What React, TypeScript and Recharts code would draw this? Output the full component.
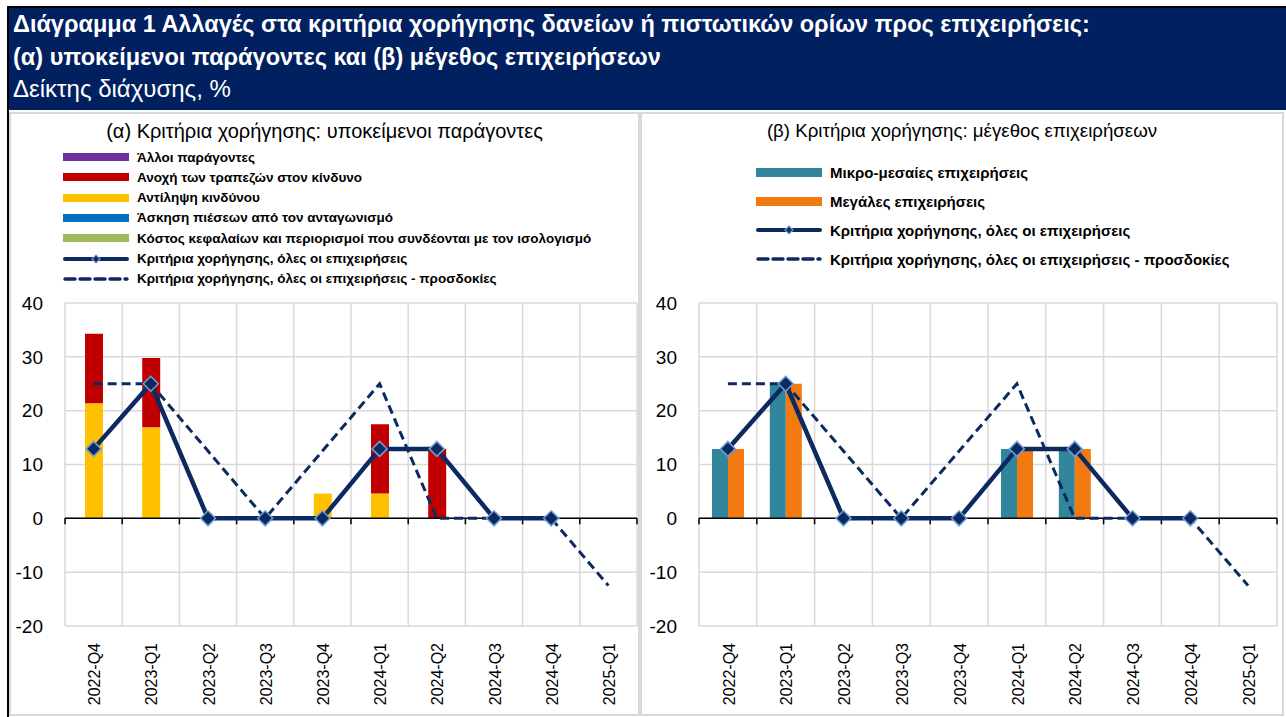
import React from 'react';
import { ComposedChart, Bar, Line, XAxis, YAxis, CartesianGrid, ReferenceLine } from 'recharts';

const quarters = ['2022-Q4', '2023-Q1', '2023-Q2', '2023-Q3', '2023-Q4', '2024-Q1', '2024-Q2', '2024-Q3', '2024-Q4', '2025-Q1'];

// (α) underlying factors, stacked
const otherFactors = [0, 0, 0, 0, 0, 0, 0, 0, 0, null];
const riskTolerance = [12.9, 12.9, 0, 0, 0, 12.9, 12.9, 0, 0, null];
const riskPerception = [21.4, 16.9, 0, 0, 4.6, 4.6, 0, 0, 0, null];
const competition = [0, 0, 0, 0, 0, 0, 0, 0, 0, null];
const costOfFunds = [0, 0, 0, 0, 0, 0, 0, 0, 0, null];

// both panels
const creditStandards = [12.9, 25, 0, 0, 0, 12.9, 12.9, 0, 0, null];
const expectations = [25, 25, 12.5, 0, 12.5, 25, 0, 0, 0, -12.5];

// (β) firm size
const smes = [12.9, 25, 0, 0, 0, 12.9, 12.9, 0, 0, null];
const largeFirms = [12.9, 25, 0, 0, 0, 12.9, 12.9, 0, 0, null];

const yTicks = [-20, -10, 0, 10, 20, 30, 40];

const navy = '#0c2a60';
const markerEdge = '#6f9fd8';
const font = '"Liberation Sans", Arial, sans-serif';

const factorSeries = [
  { key: 'other', name: 'Άλλοι παράγοντες', color: '#7030a0' },
  { key: 'tolerance', name: 'Ανοχή των τραπεζών στον κίνδυνο', color: '#c00000' },
  { key: 'perception', name: 'Αντίληψη κινδύνου', color: '#ffc000' },
  { key: 'competition', name: 'Άσκηση πιέσεων από τον ανταγωνισμό', color: '#0070c0' },
  { key: 'cost', name: 'Κόστος κεφαλαίων και περιορισμοί που συνδέονται με τον ισολογισμό', color: '#9bbb59' },
];
const sizeSeries = [
  { key: 'sme', name: 'Μικρο-μεσαίες επιχειρήσεις', color: '#31859c' },
  { key: 'large', name: 'Μεγάλες επιχειρήσεις', color: '#f27a10' },
];
const lineNames = ['Κριτήρια χορήγησης, όλες οι επιχειρήσεις', 'Κριτήρια χορήγησης, όλες οι επιχειρήσεις - προσδοκίες'];

const factorData = quarters.map((q, i) => ({
  quarter: q,
  other: otherFactors[i],
  tolerance: riskTolerance[i],
  perception: riskPerception[i],
  competition: competition[i],
  cost: costOfFunds[i],
  standards: creditStandards[i],
  expected: expectations[i],
}));

const sizeData = quarters.map((q, i) => ({
  quarter: q,
  sme: smes[i],
  large: largeFirms[i],
  standards: creditStandards[i],
  expected: expectations[i],
}));

const Diamond = (props: any) => {
  const { cx, cy, index } = props;
  if (cx == null || cy == null || isNaN(cy)) return <g key={'d' + index} />;
  const r = 7.5;
  return (
    <polygon
      key={'d' + index}
      points={`${cx},${cy - r} ${cx + r},${cy} ${cx},${cy + r} ${cx - r},${cy}`}
      fill={navy}
      stroke={markerEdge}
      strokeWidth={1.5}
    />
  );
};

const ZeroAxis = (props: any) => {
  const { x1, y1, x2 } = props;
  const n = quarters.length;
  const step = (x2 - x1) / n;
  return (
    <g>
      <line x1={x1} y1={y1} x2={x2} y2={y1} stroke="#000" strokeWidth={1.5} />
      {Array.from({ length: n + 1 }, (_, i) => (
        <line key={i} x1={x1 + i * step} x2={x1 + i * step} y1={y1} y2={y1 + 6} stroke="#000" strokeWidth={1.5} />
      ))}
    </g>
  );
};

const QuarterTick = (props: any) => {
  const { x, y, payload } = props;
  return (
    <text
      transform={`translate(${x + 1},${y + 15}) rotate(-90)`}
      textAnchor="end"
      dy="0.35em"
      fontSize={16}
      fontFamily={font}
      fill="#000"
    >
      {payload.value}
    </text>
  );
};

const categoryLines = ({ offset }: any) =>
  Array.from({ length: quarters.length + 1 }, (_, i) => offset.left + (i * offset.width) / quarters.length);

const LineSwatch = ({ dashed, width }: { dashed?: boolean; width: number }) => (
  <svg width={width} height={12} style={{ display: 'block' }}>
    {dashed ? (
      <line x1={2} y1={6} x2={width - 2} y2={6} stroke={navy} strokeWidth={3.5} strokeDasharray="10 5" strokeLinecap="round" />
    ) : (
      <>
        <line x1={2} y1={6} x2={width - 2} y2={6} stroke={navy} strokeWidth={4} strokeLinecap="round" />
        <polygon
          points={`${width / 2},2 ${width / 2 + 4},6 ${width / 2},10 ${width / 2 - 4},6`}
          fill={navy}
          stroke={markerEdge}
          strokeWidth={1.2}
        />
      </>
    )}
  </svg>
);

type Row = { name: string; color?: string; line?: 'solid' | 'dashed' };

const PanelLegend = ({ rows, left, top, gap, swatch, barH, fontSize, bold }: {
  rows: Row[]; left: number; top: number; gap: number; swatch: number; barH: number; fontSize: number; bold?: boolean;
}) => (
  <div style={{ position: 'absolute', left, top, fontFamily: font }}>
    {rows.map((r, i) => (
      <div key={i} style={{ position: 'absolute', top: i * gap - 10, left: 0, height: 20, display: 'flex', alignItems: 'center', whiteSpace: 'nowrap' }}>
        <div style={{ width: swatch, display: 'flex', alignItems: 'center' }}>
          {r.line ? (
            <LineSwatch dashed={r.line === 'dashed'} width={swatch} />
          ) : (
            <div style={{ width: swatch, height: barH, background: r.color }} />
          )}
        </div>
        <span style={{ marginLeft: 8, fontSize, color: '#000', fontWeight: bold ? 'bold' : 'normal' }}>{r.name}</span>
      </div>
    ))}
  </div>
);

const yAxisProps = {
  type: 'number' as const,
  domain: [-20, 40],
  ticks: yTicks,
  axisLine: false,
  tickLine: false,
  tickSize: 0,
  tickMargin: 22,
  interval: 0 as const,
  tick: { fontSize: 19, fill: '#000', fontFamily: font },
};

const App = () => {
  const leftRows: Row[] = [
    ...factorSeries.map((s) => ({ name: s.name, color: s.color })),
    { name: lineNames[0], line: 'solid' as const },
    { name: lineNames[1], line: 'dashed' as const },
  ];
  const rightRows: Row[] = [
    ...sizeSeries.map((s) => ({ name: s.name, color: s.color })),
    { name: lineNames[0], line: 'solid' as const },
    { name: lineNames[1], line: 'dashed' as const },
  ];
  const stackOrder = ['cost', 'competition', 'perception', 'tolerance', 'other'];

  return (
    <div style={{ position: 'absolute', left: 0, top: 0, width: 1286, height: 717, background: '#fff', fontFamily: font, overflow: 'hidden' }}>
      <div style={{ position: 'absolute', left: 7, top: 6, width: 1279, height: 2, background: '#000' }} />
      <div style={{ position: 'absolute', left: 7, top: 6, width: 2, height: 711, background: '#000' }} />
      <div style={{ position: 'absolute', left: 9, top: 8, width: 1277, height: 102, background: '#002060', color: '#fff' }}>
        <div style={{ position: 'absolute', left: 4, top: 0, fontSize: 23.5, fontWeight: 'bold', lineHeight: '32px', whiteSpace: 'nowrap' }}>
          Διάγραμμα 1 Αλλαγές στα κριτήρια χορήγησης δανείων ή πιστωτικών ορίων προς επιχειρήσεις:
        </div>
        <div style={{ position: 'absolute', left: 4, top: 33, fontSize: 23.5, fontWeight: 'bold', lineHeight: '32px', whiteSpace: 'nowrap' }}>
          (α) υποκείμενοι παράγοντες και (β) μέγεθος επιχειρήσεων
        </div>
        <div style={{ position: 'absolute', left: 4, top: 65, fontSize: 24, lineHeight: '32px', whiteSpace: 'nowrap' }}>
          Δείκτης διάχυσης, %
        </div>
      </div>

      <div style={{ position: 'absolute', left: 9, top: 112, width: 631, height: 604, border: '2px solid #d9d9d9', boxSizing: 'border-box' }} />
      <div style={{ position: 'absolute', left: 640, top: 112, width: 644, height: 604, border: '2px solid #d9d9d9', boxSizing: 'border-box' }} />

      <div style={{ position: 'absolute', left: 9, top: 119, width: 631, textAlign: 'center', fontSize: 20, lineHeight: '24px' }}>
        (α) Κριτήρια χορήγησης: υποκείμενοι παράγοντες
      </div>
      <div style={{ position: 'absolute', left: 640, top: 119, width: 644, textAlign: 'center', fontSize: 18.7, lineHeight: '24px' }}>
        (β) Κριτήρια χορήγησης: μέγεθος επιχειρήσεων
      </div>

      <div style={{ position: 'absolute', left: 9, top: 112 }}>
        <ComposedChart width={631} height={604} data={factorData} margin={{ top: 191, right: 3, bottom: 0, left: 0 }}>
          <CartesianGrid stroke="#d9d9d9" strokeWidth={1.5} verticalCoordinatesGenerator={categoryLines} />
          <XAxis dataKey="quarter" interval={0} height={90} tickSize={0} tickLine={false} axisLine={false} tick={<QuarterTick />} />
          <YAxis width={56} {...yAxisProps} />
          {stackOrder.map((k) => {
            const s = factorSeries.find((f) => f.key === k)!;
            return <Bar key={k} dataKey={k} name={s.name} stackId="f" fill={s.color} barSize={18} isAnimationActive={false} />;
          })}
          <ReferenceLine y={0} shape={<ZeroAxis />} />
          <Line dataKey="expected" name={lineNames[1]} stroke={navy} strokeWidth={3} strokeDasharray="9 5" dot={false} activeDot={false} isAnimationActive={false} />
          <Line dataKey="standards" name={lineNames[0]} stroke={navy} strokeWidth={4.5} dot={Diamond} activeDot={false} isAnimationActive={false} />
        </ComposedChart>
      </div>

      <div style={{ position: 'absolute', left: 640, top: 112 }}>
        <ComposedChart width={644} height={604} data={sizeData} margin={{ top: 191, right: 7, bottom: 0, left: 0 }} barGap={0}>
          <CartesianGrid stroke="#d9d9d9" strokeWidth={1.5} verticalCoordinatesGenerator={categoryLines} />
          <XAxis dataKey="quarter" interval={0} height={90} tickSize={0} tickLine={false} axisLine={false} tick={<QuarterTick />} />
          <YAxis width={59} {...yAxisProps} />
          {sizeSeries.map((s) => (
            <Bar key={s.key} dataKey={s.key} name={s.name} fill={s.color} barSize={16} isAnimationActive={false} />
          ))}
          <ReferenceLine y={0} shape={<ZeroAxis />} />
          <Line dataKey="expected" name={lineNames[1]} stroke={navy} strokeWidth={3} strokeDasharray="9 5" dot={false} activeDot={false} isAnimationActive={false} />
          <Line dataKey="standards" name={lineNames[0]} stroke={navy} strokeWidth={4.5} dot={Diamond} activeDot={false} isAnimationActive={false} />
        </ComposedChart>
      </div>

      <PanelLegend rows={leftRows} left={63} top={157} gap={20.3} swatch={66} barH={8} fontSize={13.5} bold />
      <PanelLegend rows={rightRows} left={756} top={172} gap={29} swatch={66} barH={9} fontSize={15} bold />
    </div>
  );
};

export default App;
